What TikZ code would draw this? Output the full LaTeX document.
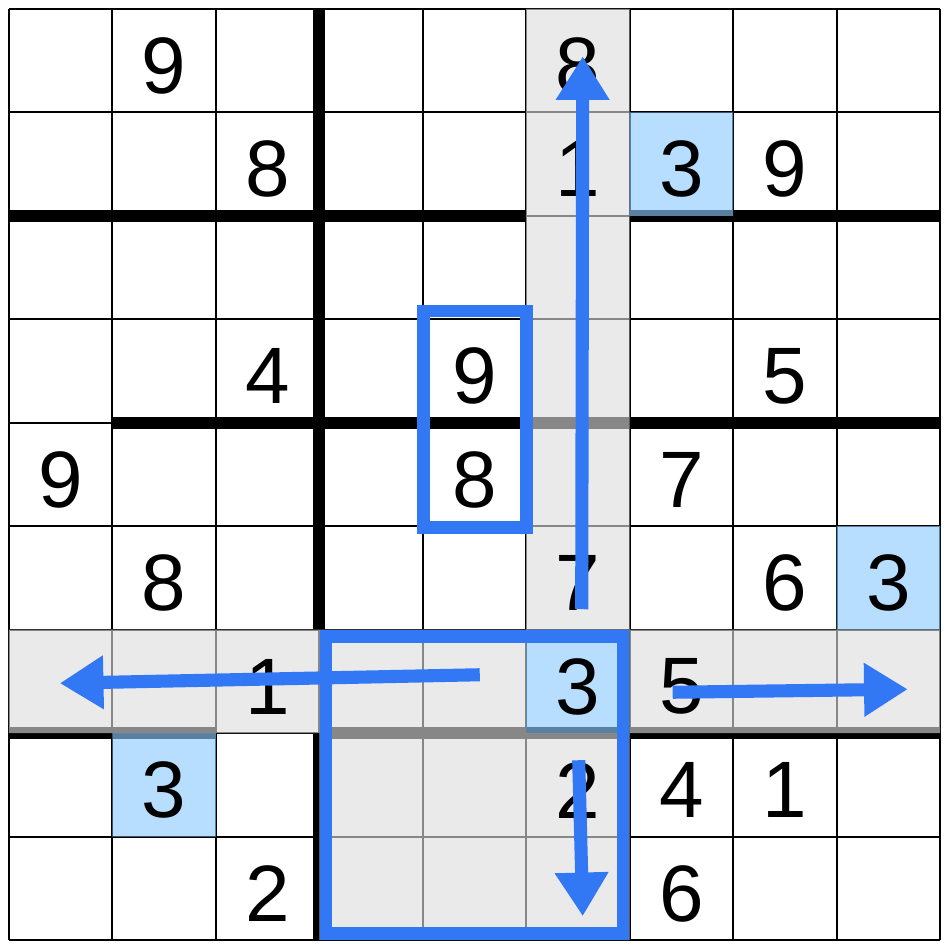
\documentclass[tikz,border=0pt]{standalone}
\usepackage{fontspec}
\setmainfont{Liberation Sans}
\usetikzlibrary{arrows.meta, math}
\definecolor{myblue}{RGB}{50,120,245}
\definecolor{mygray}{RGB}{222,222,222}
\definecolor{mysky}{RGB}{142,202,255}

\begin{document}
\begin{tikzpicture}[x=1cm,y=1cm,
  gridline/.style={line width=0.55pt},
  region/.style={line width=3.3pt},
  digit/.style={font=\fontsize{22}{26}\selectfont, inner sep=0pt},
  frame/.style={line width=3.5pt, draw=myblue},
  sweep/.style={line width=3.6pt, color=myblue, -{Triangle[length=12pt,width=14pt]}}]
\tikzmath{
\n=9;
\m=0.085;%margin
\inset=0.065;
}
\useasboundingbox (-\m,-\m) rectangle (\n+\m,\n+\m);
\fill[white] (-\m,-\m) rectangle (\n+\m,\n+\m);

%grid
\foreach \i in {0,...,9}{
  \draw[gridline] (\i,0) -- (\i,\n);
  \draw[gridline] (0,\i) -- (\n,\i);
}
%regions
\draw[region] (3,9) -- (3,3);
\draw[region] (3,2) -- (3,0);
\draw[region] (0,7) -- (5,7);
\draw[region] (6,7) -- (9,7);
\draw[region] (1,5) -- (9,5);
\draw[region] (0,2) -- (2,2);
\draw[region] (3,2) -- (9,2);

%highlights
\fill[mygray, fill opacity=0.61] (0,2) rectangle (5,3) (6,2) rectangle (9,3)
  (5,3) rectangle (6,9) (3,0) rectangle (6,2);
\fill[mysky, fill opacity=0.63] (6,7) rectangle (7,8) (8,3) rectangle (9,4)
  (5,2) rectangle (6,3) (1,1) rectangle (2,2);

%givens
\foreach \r/\c/\v in {1/2/9, 1/6/8, 2/3/8, 2/6/1, 2/7/3, 2/8/9, 4/3/4, 4/5/9, 4/8/5,
  5/1/9, 5/5/8, 5/7/7, 6/2/8, 6/6/7, 6/8/6, 6/9/3, 7/3/1, 7/6/3, 7/7/5,
  8/2/3, 8/6/2, 8/7/4, 8/8/1, 9/3/2, 9/7/6}
  \node[digit] (d\r\c) at (\c-0.5, 9.45-\r) {\v};

%boxes
\draw[frame] (4.01,3.99) rectangle (5.0,6.08);
\draw[frame] (3+\inset,\inset) rectangle (6-\inset,3-\inset);

%arrows
\coordinate (up0) at (5.536,3.198);
\coordinate (up1) at (5.546,8.541);
\coordinate (left0) at (4.551,2.565);
\coordinate (left1) at (0.493,2.483);
\coordinate (right0) at (6.415,2.396);
\coordinate (right1) at (8.686,2.425);
\coordinate (down0) at (5.507,1.739);
\coordinate (down1) at (5.546,0.232);
\draw[sweep] (up0) -- (up1);
\draw[sweep] (left0) -- (left1);
\draw[sweep] (right0) -- (right1);
\draw[sweep] (down0) -- (down1);
\end{tikzpicture}
\end{document}
